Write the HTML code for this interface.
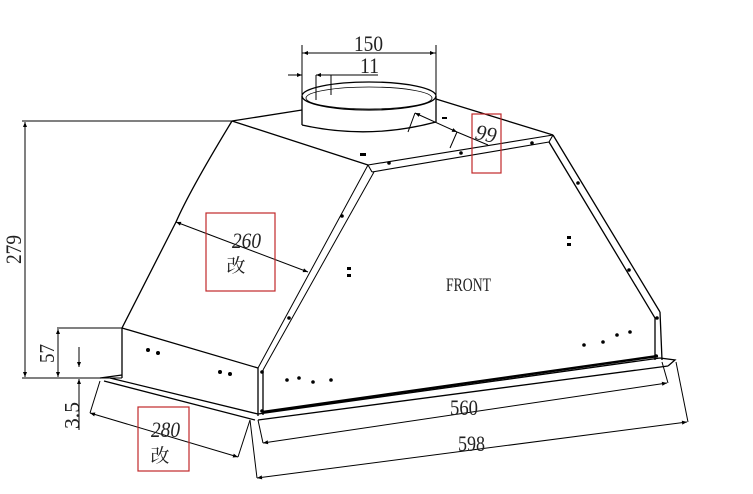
<!DOCTYPE html>
<html><head><meta charset="utf-8"><style>
html,body{margin:0;padding:0;background:#fff;}
svg{display:block;}
text{font-family:"Liberation Serif","Noto Serif CJK SC",serif;fill:#222;}
</style></head><body>
<svg width="753" height="494" viewBox="0 0 753 494" xmlns="http://www.w3.org/2000/svg">
<defs>
<marker id="a" viewBox="0 0 10 10" refX="10" refY="5" markerWidth="10" markerHeight="5" orient="auto-start-reverse" markerUnits="userSpaceOnUse"><path d="M0,1 L10,5 L0,9 z" fill="#000"/></marker>
</defs>
<g fill="none" stroke="#000" stroke-width="1.3">
<path d="M232,121 L302,110 M436,99 L553,135 M232,121 L368,165"/>
<path d="M368,165 L553,135 M372,172 L549,142 M368,165 L372,172 M553,135 L549,142" stroke-width="1.1"/>
<ellipse cx="369" cy="96" rx="67" ry="14"/>
<ellipse cx="369" cy="98" rx="63" ry="11" stroke-width="0.8"/>
<path d="M302,96 L302,125 M436,96 L436,122 M302,125 Q369,140 436,122"/>
<path d="M232,121 Q190,190 176,222 L122,328 L258,368"/>
<path d="M368,165 L258,368 M374,172 L263,370" stroke-width="1"/>
<path d="M553,135 L660,312 M549,142 L655,318 L655,360 M660,312 L662,360"/>
<path d="M122,328 L122,378 M258,368 L258,416 M263,370 L263,415"/>
<path d="M100,378 L122,375 M104,381 L255,420 M110,378 L258,414 M258,414 L660,358 M258,420 L668,366 M660,358 L675,360 L668,366"/>
<path d="M263,412 L658,356" stroke-width="2.5"/>
<g stroke-width="1">
<path d="M302,53 L436,53 M302,45 L302,96 M436,45 L436,96"/>
<path d="M303,53 L320,53" marker-start="url(#a)"/>
<path d="M418,53 L435,53" marker-end="url(#a)"/>
<path d="M288,75 L302,75" marker-end="url(#a)"/>
<path d="M316,75 L378,75" marker-start="url(#a)"/>
<path d="M316,75 L316,100 M331,75 L331,95 M302,75 L302,85"/>
<path d="M22,121 L232,121 M22,378 L122,378 M57,328 L122,328 M57,378 L100,378"/>
<path d="M25,122 L25,377" marker-start="url(#a)" marker-end="url(#a)"/>
<path d="M58,329 L58,377" marker-start="url(#a)" marker-end="url(#a)"/>
<path d="M79,347 L79,367" marker-end="url(#a)"/>
<path d="M79,379 L79,430" marker-start="url(#a)"/>
<path d="M176,222 L308,272" marker-start="url(#a)" marker-end="url(#a)"/>
<path d="M100,381 L90,413 M250,420 L238,457"/>
<path d="M90,413 L238,457" marker-start="url(#a)" marker-end="url(#a)"/>
<path d="M258,420 L263,443 M250,420 L257,478 M662,362 L668,383 M676,362 L688,422"/>
<path d="M263,443 L667,383" marker-start="url(#a)" marker-end="url(#a)"/>
<path d="M257,478 L687,422" marker-start="url(#a)" marker-end="url(#a)"/>
<path d="M415,113 L457,132" marker-start="url(#a)" marker-end="url(#a)"/>
<path d="M457,132 L488,145 M415,113 L408,132 M457,132 L450,148"/>
</g>
<g stroke="#c0282a" stroke-width="1.2">
<rect x="206" y="213" width="69" height="78"/>
<rect x="138" y="407" width="51" height="64"/>
<rect x="472" y="114" width="29" height="59"/>
</g>
</g>
<g fill="#000">
<circle cx="148" cy="350" r="2"/><circle cx="158" cy="353" r="2"/>
<circle cx="220" cy="372" r="2"/><circle cx="230" cy="374" r="2"/>
<circle cx="262" cy="372" r="1.8"/><circle cx="262" cy="411" r="1.8"/>
<circle cx="287" cy="380" r="1.8"/><circle cx="299" cy="378" r="1.8"/><circle cx="313" cy="382" r="1.8"/><circle cx="331" cy="380" r="1.8"/>
<circle cx="584" cy="345" r="1.8"/><circle cx="603" cy="342" r="1.8"/><circle cx="617" cy="335" r="1.8"/><circle cx="630" cy="332" r="1.8"/>
<circle cx="657" cy="318" r="1.8"/><circle cx="656" cy="356" r="1.8"/>
<circle cx="578" cy="183" r="1.8"/><circle cx="629" cy="270" r="1.8"/>
<circle cx="342" cy="216" r="1.8"/><circle cx="289" cy="318" r="1.8"/>
<circle cx="389" cy="163" r="1.8"/><circle cx="461" cy="153" r="1.8"/><circle cx="532" cy="143" r="1.8"/>
<rect x="347" y="267" width="4" height="3"/><rect x="347" y="274" width="4" height="3"/>
<rect x="567" y="236" width="4" height="3"/><rect x="567" y="243" width="4" height="3"/>
<rect x="360" y="153" width="6" height="3"/><rect x="442" y="117" width="5" height="2"/>
</g>
<text x="354" y="51" font-size="22" textLength="29" lengthAdjust="spacingAndGlyphs">150</text>
<text x="360" y="73" font-size="22" textLength="19" lengthAdjust="spacingAndGlyphs" fill="#333">11</text>
<text transform="translate(21,264) rotate(-90)" font-size="22" textLength="29" lengthAdjust="spacingAndGlyphs">279</text>
<text transform="translate(54,363) rotate(-90)" font-size="21" textLength="19" lengthAdjust="spacingAndGlyphs">57</text>
<text transform="translate(79,429) rotate(-90)" font-size="21" textLength="27" lengthAdjust="spacingAndGlyphs">3.5</text>
<text x="232" y="248" font-size="22" font-style="italic" textLength="29" lengthAdjust="spacingAndGlyphs">260</text>
<text x="236" y="272" font-size="19" text-anchor="middle">改</text>
<text x="151" y="437" font-size="22" font-style="italic" textLength="29" lengthAdjust="spacingAndGlyphs">280</text>
<text x="160" y="462" font-size="19" text-anchor="middle">改</text>
<text x="474" y="141" font-size="22" font-style="italic" textLength="21" lengthAdjust="spacingAndGlyphs" transform="rotate(12 485 141)">99</text>
<text x="446" y="291" font-size="19" textLength="45" lengthAdjust="spacingAndGlyphs">FRONT</text>
<text x="450" y="415" font-size="22" textLength="28" lengthAdjust="spacingAndGlyphs">560</text>
<text x="458" y="451" font-size="22" textLength="27" lengthAdjust="spacingAndGlyphs">598</text>
</svg>
</body></html>
